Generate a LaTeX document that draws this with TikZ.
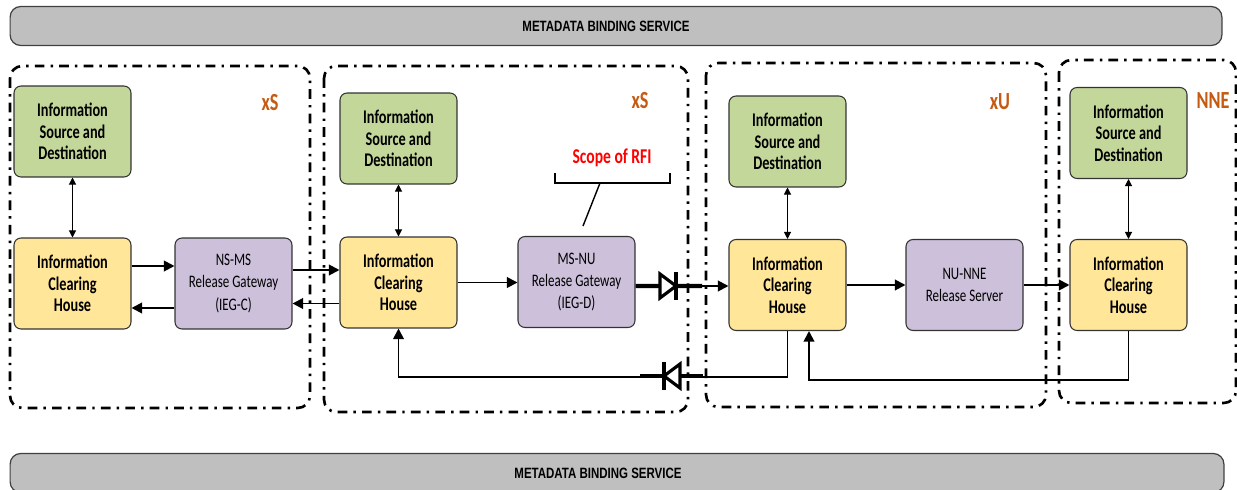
\documentclass[tikz,border=0pt]{standalone}
\usepackage{fontspec}
\setmainfont{Carlito}[FakeStretch=0.74]
\newfontfamily\barfont{Liberation Sans}[FakeStretch=0.77]
\usetikzlibrary{arrows.meta}

\definecolor{srcgreen}{RGB}{196,215,155}
\definecolor{ichyellow}{RGB}{255,230,153}
\definecolor{gwpurple}{RGB}{204,192,218}
\definecolor{zonebrown}{RGB}{197,90,17}
\definecolor{bargray}{RGB}{191,191,191}

\tikzset{
    infobox/.style={draw=black!80,
        rectangle,
        rounded corners=4pt,
        line width=0.6pt,
        minimum width = 2.34cm,
        minimum height = 1.82cm,
        align=center,
        font=\fontsize{11}{12.3}\selectfont\bfseries},
    sourcebox/.style={infobox, fill=srcgreen},
    clearbox/.style={infobox, fill=ichyellow},
    gatebox/.style={infobox, fill=gwpurple,
        font=\fontsize{10}{12.7}\selectfont},
    zonebox/.style={line width=1.5pt,
        rounded corners=7pt,
        dash pattern=on 5.5pt off 3.5pt on 1.4pt off 3.5pt},
    zonelabel/.style={text=zonebrown,
        font=\fontsize{14}{16}\selectfont\bfseries},
    servicebar/.style={draw=black!75,
        fill=bargray,
        rounded corners=6pt,
        line width=0.7pt,
        minimum height = 0.78cm,
        font=\barfont\fontsize{8.5}{10}\selectfont\bfseries},
    flow/.style={-{Triangle[length=6pt,width=6pt]}, line width=1.1pt},
    link/.style={{Triangle[length=4pt,width=4pt]}-{Triangle[length=4pt,width=4pt]},
        line width=0.6pt},
    diode/.pic={
        \draw[line width=1.8pt, fill=white] (-8,-12) -- (8,0) -- (-8,12) -- cycle;
        \draw[line width=2pt] (8,-14) -- (8,14);
    }
}

\begin{document}
\begin{tikzpicture}[x=0.02cm, y=-0.02cm]
    \useasboundingbox (0,0) rectangle (1237,490);

    % service bars
    \node[servicebar,
        minimum width = 24.24cm
        ](mbstop) at (616,26) {METADATA BINDING SERVICE\kern0.4cm};
    \node[servicebar,
        minimum width = 24.28cm
        ](mbsbot) at (617,473) {METADATA BINDING SERVICE\kern0.76cm};

    % domains
    \draw[zonebox] (10,66) rectangle (310,408);
    \draw[zonebox] (324,66) rectangle (688,412);
    \draw[zonebox] (706,63) rectangle (1046,407);
    \draw[zonebox] (1059,60) rectangle (1236,403);

    \node[zonelabel](zone1) at (270,103) {xS};
    \node[zonelabel](zone2) at (640,101) {xS};
    \node[zonelabel](zone3) at (1000,102) {xU};
    \node[zonelabel](zone4) at (1213,101) {NNE};

    % first xS
    \node[sourcebox
        ](source1) at (72.5,131.5) {Information\\Source and\\Destination};
    \node[clearbox
        ](clear1) at (72.5,283.5) {Information\\Clearing\\House};
    \node[gatebox
        ](gate1) at (233.5,283.5) {NS-MS\\Release Gateway\\(IEG-C)};

    % second xS
    \node[sourcebox
        ](source2) at (398.5,138.5) {Information\\Source and\\Destination};
    \node[clearbox
        ](clear2) at (398.5,282.5) {Information\\Clearing\\House};
    \node[gatebox
        ](gate2) at (576.5,282) {MS-NU\\Release Gateway\\(IEG-D)};

    % xU
    \node[sourcebox
        ](source3) at (787.5,141.5) {Information\\Source and\\Destination};
    \node[clearbox
        ](clear3) at (787.5,285) {Information\\Clearing\\House};
    \node[gatebox
        ](gate3) at (964.5,285) {NU-NNE\\Release Server};

    % NNE
    \node[sourcebox
        ](source4) at (1128.5,133) {Information\\Source and\\Destination};
    \node[clearbox
        ](clear4) at (1128.5,285) {Information\\Clearing\\House};

    % source <-> clearing house
    \draw[link] (source1) -- (clear1);
    \draw[link] (source2) -- (clear2);
    \draw[link] (source3) -- (clear3);
    \draw[link] (source4) -- (clear4);

    % forward and back flows
    \draw[flow] ([yshift=0.35cm]clear1.east) -- ([yshift=0.35cm]clear1.east -| gate1.west);
    \draw[flow] ([yshift=-0.49cm]gate1.west) -- ([yshift=-0.49cm]gate1.west -| clear1.east);
    \draw[flow] ([yshift=0.27cm]gate1.east) -- ([yshift=0.27cm]gate1.east -| clear2.west);
    \draw[flow] ([yshift=-0.42cm]clear2.west) -- ([yshift=-0.42cm]clear2.west -| gate1.east);
    \draw[flow] (clear2.east) -- (clear2.east -| gate2.west);
    \draw[flow] ([yshift=-0.08cm]gate2.east) -- ([yshift=-0.08cm]gate2.east -| clear3.west);
    \draw[flow] (clear3.east) -- (clear3.east -| gate3.west);
    \draw[flow] (gate3.east) -- (gate3.east -| clear4.west);

    % one-way links
    \coordinate (fwd) at (668,286);
    \draw[line width=2.4pt] ([yshift=-0.08cm]gate2.east) -- ([xshift=0.68cm]fwd);
    \pic at (fwd) {diode};

    \draw[flow] (clear3.south) -- ++(0,46) -| (clear2.south);
    \coordinate (rev) at (672,376);
    \draw[line width=2.4pt] ([xshift=-0.64cm]rev) -- ([xshift=0.62cm]rev);
    \pic[xscale=-1] at (rev) {diode};

    \draw[flow] (clear4.south) -- ++(0,49) -| ([xshift=0.43cm]clear3.south);

    % scope of RFI
    \node[text=red,
        font=\fontsize{12}{14}\selectfont\bfseries
        ](rfi) at (612,158) {Scope of RFI};
    \draw[line width=0.8pt] (555,173) -- (555,183) -- (670,183) -- (670,173);
    \draw[line width=0.8pt] (600,183) -- (583,226);

\end{tikzpicture}
\end{document}
